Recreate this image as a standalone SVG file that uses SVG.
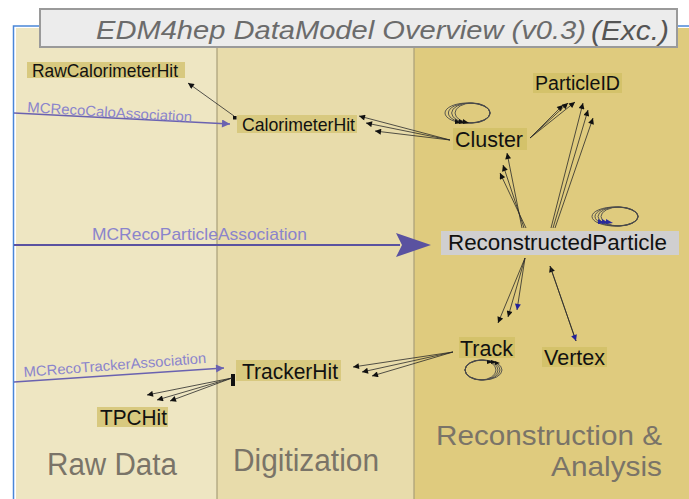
<svg xmlns="http://www.w3.org/2000/svg" width="689" height="499" viewBox="0 0 689 499">
<style>
.nt{font-family:"Liberation Sans",Arial,sans-serif;fill:#111;}
.sec{font-family:"Liberation Sans",Arial,sans-serif;fill:#7a7468;font-size:31px;}
.sec2{font-family:"Liberation Sans",Arial,sans-serif;fill:#7a7468;font-size:28px;}
.asl{font-family:"Liberation Sans",Arial,sans-serif;fill:#8a84cc;}
.nb{fill:#d8c97f;}
.nbr{fill:#d4c26a;}
.ln{stroke:#2a2a2a;stroke-width:0.8;fill:none;}
.lp{stroke:#4a4a4a;stroke-width:0.9;fill:none;}
.as{stroke:#6a62b0;stroke-width:1.4;fill:none;}
</style>
<defs>
<marker id="ah" viewBox="0 0 10 10" refX="10" refY="5" markerWidth="8" markerHeight="6" markerUnits="userSpaceOnUse" orient="auto"><path d="M0,0 L10,5 L0,10 z" fill="#111"/></marker>
<marker id="ahb" viewBox="0 0 10 10" refX="10" refY="5" markerWidth="8" markerHeight="6" markerUnits="userSpaceOnUse" orient="auto"><path d="M0,0 L10,5 L0,10 z" fill="#22229a"/></marker>
<marker id="ahp" viewBox="0 0 10 10" refX="10" refY="5" markerWidth="16" markerHeight="8" markerUnits="userSpaceOnUse" orient="auto"><path d="M0,0 L10,5 L0,10 z" fill="#6a62b0"/></marker>
</defs>
<rect x="0" y="0" width="689" height="499" fill="#ffffff"/>
<!-- panels -->
<rect x="16" y="28" width="201" height="471" fill="#eee6c2"/>
<rect x="217" y="28" width="197" height="471" fill="#e8dcab"/>
<rect x="414" y="28" width="275" height="471" fill="#dfcb7e"/>
<line x1="217" y1="28" x2="217" y2="499" stroke="#a89e78" stroke-width="1.2"/>
<line x1="414" y1="28" x2="414" y2="499" stroke="#a89e78" stroke-width="1.2"/>
<!-- blue frame -->
<polyline points="13.5,499 13.5,26 689,26" fill="none" stroke="#4a86d8" stroke-width="1.5"/>
<!-- title -->
<g id="title">
<rect x="40" y="9" width="637" height="38" fill="#ececec" stroke="#9a9a9a" stroke-width="2"/>
<text x="96" y="38.5" font-family="Liberation Sans, Arial, sans-serif" font-style="italic" font-size="26" fill="#6b6b6b" textLength="490" lengthAdjust="spacingAndGlyphs">EDM4hep DataModel Overview (v0.3)</text>
<text x="591" y="39.5" font-family="Liberation Sans, Arial, sans-serif" font-style="italic" font-size="28" fill="#555" textLength="78" lengthAdjust="spacingAndGlyphs">(Exc.)</text>
</g>
<!-- section labels -->
<text class="sec" x="47" y="475" textLength="130" lengthAdjust="spacingAndGlyphs">Raw Data</text>
<text class="sec" x="233" y="471" textLength="146" lengthAdjust="spacingAndGlyphs">Digitization</text>
<text class="sec2" x="436" y="445" textLength="226" lengthAdjust="spacingAndGlyphs">Reconstruction &amp;</text>
<text class="sec2" x="551" y="476" textLength="111" lengthAdjust="spacingAndGlyphs">Analysis</text>
<!-- nodes -->
<g id="RawCalorimeterHit"><rect class="nb" x="27" y="62" width="158" height="16"/><text class="nt" x="32" y="76.5" font-size="18.5" textLength="146" lengthAdjust="spacingAndGlyphs">RawCalorimeterHit</text></g>
<g id="CalorimeterHit"><rect class="nb" x="237" y="115" width="120" height="18"/><rect x="233" y="116" width="3.5" height="3.5" fill="#111"/><text class="nt" x="242" y="131" font-size="18.5" textLength="113" lengthAdjust="spacingAndGlyphs">CalorimeterHit</text></g>
<g id="Cluster"><rect class="nbr" x="453" y="128" width="74" height="22"/><text class="nt" x="455" y="147" font-size="22" textLength="68" lengthAdjust="spacingAndGlyphs">Cluster</text></g>
<g id="ParticleID"><rect class="nbr" x="533" y="73" width="89" height="20"/><text class="nt" x="535" y="90" font-size="20" textLength="85" lengthAdjust="spacingAndGlyphs">ParticleID</text></g>
<g id="ReconstructedParticle"><rect x="441" y="231" width="238" height="24" fill="#d0cfd0"/><text class="nt" x="448" y="250" font-size="22.5" textLength="219" lengthAdjust="spacingAndGlyphs">ReconstructedParticle</text></g>
<g id="Track"><rect class="nbr" x="459" y="337" width="56" height="21"/><text class="nt" x="460" y="356" font-size="22" textLength="53" lengthAdjust="spacingAndGlyphs">Track</text></g>
<g id="Vertex"><rect class="nbr" x="542" y="347" width="65" height="20"/><text class="nt" x="544" y="365" font-size="22" textLength="61" lengthAdjust="spacingAndGlyphs">Vertex</text></g>
<g id="TrackerHit"><rect class="nb" x="236" y="360" width="105" height="21"/><rect x="231" y="374" width="4" height="12" fill="#111"/><text class="nt" x="242" y="379" font-size="22" textLength="96" lengthAdjust="spacingAndGlyphs">TrackerHit</text></g>
<g id="TPCHit"><rect class="nb" x="97" y="407" width="71" height="20"/><text class="nt" x="100" y="425" font-size="21.5" textLength="67" lengthAdjust="spacingAndGlyphs">TPCHit</text></g>
<!-- connectors -->
<g id="connectors">
<line class="as" x1="14" y1="113" x2="230" y2="124" marker-end="url(#ahp)"/>
<text class="asl" font-size="14.5" transform="translate(27,112) rotate(3.5)" textLength="165" lengthAdjust="spacingAndGlyphs">MCRecoCaloAssociation</text>
<line x1="14" y1="245" x2="400" y2="245" stroke="#5a52a0" stroke-width="2.2"/>
<path d="M396,233 L431,245 L396,257 L402,245 z" fill="#5a52a0"/>
<text class="asl" x="92" y="240" font-size="17" textLength="215" lengthAdjust="spacingAndGlyphs">MCRecoParticleAssociation</text>
<line class="as" x1="14" y1="382" x2="224" y2="368" marker-end="url(#ahp)"/>
<text class="asl" font-size="14.5" transform="translate(24,377) rotate(-4.4)" textLength="183" lengthAdjust="spacingAndGlyphs">MCRecoTrackerAssociation</text>
<line class="ln" x1="234" y1="116" x2="188" y2="83" marker-end="url(#ah)"/>
<line class="ln" x1="450" y1="140" x2="359" y2="116" marker-end="url(#ah)"/>
<line class="ln" x1="450" y1="140" x2="366" y2="123" marker-end="url(#ah)"/>
<line class="ln" x1="450" y1="140" x2="375" y2="131" marker-end="url(#ah)"/>
<line class="ln" x1="530" y1="138" x2="563" y2="105" marker-end="url(#ah)"/>
<line class="ln" x1="530" y1="138" x2="568" y2="103" marker-end="url(#ah)"/>
<line class="ln" x1="530" y1="138" x2="575" y2="102" marker-end="url(#ah)"/>
<line class="ln" x1="522" y1="228" x2="507" y2="153" marker-end="url(#ah)"/>
<line class="ln" x1="524" y1="228" x2="503" y2="165" marker-end="url(#ah)"/>
<line class="ln" x1="526" y1="228" x2="500" y2="173" marker-end="url(#ah)"/>
<line class="ln" x1="551" y1="228" x2="583" y2="103" marker-end="url(#ah)"/>
<line class="ln" x1="553" y1="228" x2="588" y2="110" marker-end="url(#ah)"/>
<line class="ln" x1="555" y1="228" x2="593" y2="118" marker-end="url(#ah)"/>
<line class="ln" x1="525" y1="258" x2="498" y2="323" marker-end="url(#ah)"/>
<line class="ln" x1="525" y1="258" x2="508" y2="317" marker-end="url(#ah)"/>
<line class="ln" x1="525" y1="258" x2="517" y2="310" marker-end="url(#ahb)"/>
<line class="ln" x1="576" y1="341" x2="550" y2="266" marker-end="url(#ah)"/>
<line class="ln" x1="550" y1="266" x2="576" y2="341" marker-end="url(#ahb)"/>
<line class="ln" x1="453" y1="352" x2="353" y2="367" marker-end="url(#ah)"/>
<line class="ln" x1="453" y1="352" x2="362" y2="372" marker-end="url(#ah)"/>
<line class="ln" x1="453" y1="352" x2="372" y2="376" marker-end="url(#ah)"/>
<line class="ln" x1="232" y1="378" x2="147" y2="395" marker-end="url(#ah)"/>
<line class="ln" x1="232" y1="378" x2="157" y2="400" marker-end="url(#ah)"/>
<line class="ln" x1="232" y1="378" x2="170" y2="401" marker-end="url(#ah)"/>
<ellipse class="lp" cx="467.5" cy="113" rx="22.5" ry="10"/>
<ellipse class="lp" cx="469.2" cy="113" rx="20.8" ry="10"/>
<ellipse class="lp" cx="470.8" cy="113" rx="19.2" ry="10"/>
<ellipse class="lp" cx="472.5" cy="113" rx="17.5" ry="10"/>
<path d="M455,119 l6,4 l-6,1 z M459,119 l6,4 l-6,1 z M463,119 l6,4 l-6,1 z" fill="#111"/>
<ellipse class="lp" cx="615" cy="216.5" rx="23" ry="9.5"/>
<ellipse class="lp" cx="616.5" cy="216.5" rx="21.5" ry="9.5"/>
<ellipse class="lp" cx="618" cy="216.5" rx="20" ry="9.5"/>
<ellipse class="lp" cx="619.5" cy="216.5" rx="18.5" ry="9.5"/>
<path d="M598,219 l7,4 l-7,1 z M602,219 l7,4 l-7,1 z M606,219 l7,4 l-7,1 z" fill="#2a2a9a"/>
<ellipse class="lp" cx="483.5" cy="370" rx="18.5" ry="10"/>
<ellipse class="lp" cx="482.5" cy="370" rx="17.5" ry="10"/>
<ellipse class="lp" cx="481.5" cy="370" rx="16.5" ry="10"/>
<ellipse class="lp" cx="480.5" cy="370" rx="15.5" ry="10"/>
<path d="M487,360 l6,2 l-6,2 z M491,360 l6,2 l-6,2 z M495,361 l5,2 l-5,2 z" fill="#111"/>
</g>
</svg>
